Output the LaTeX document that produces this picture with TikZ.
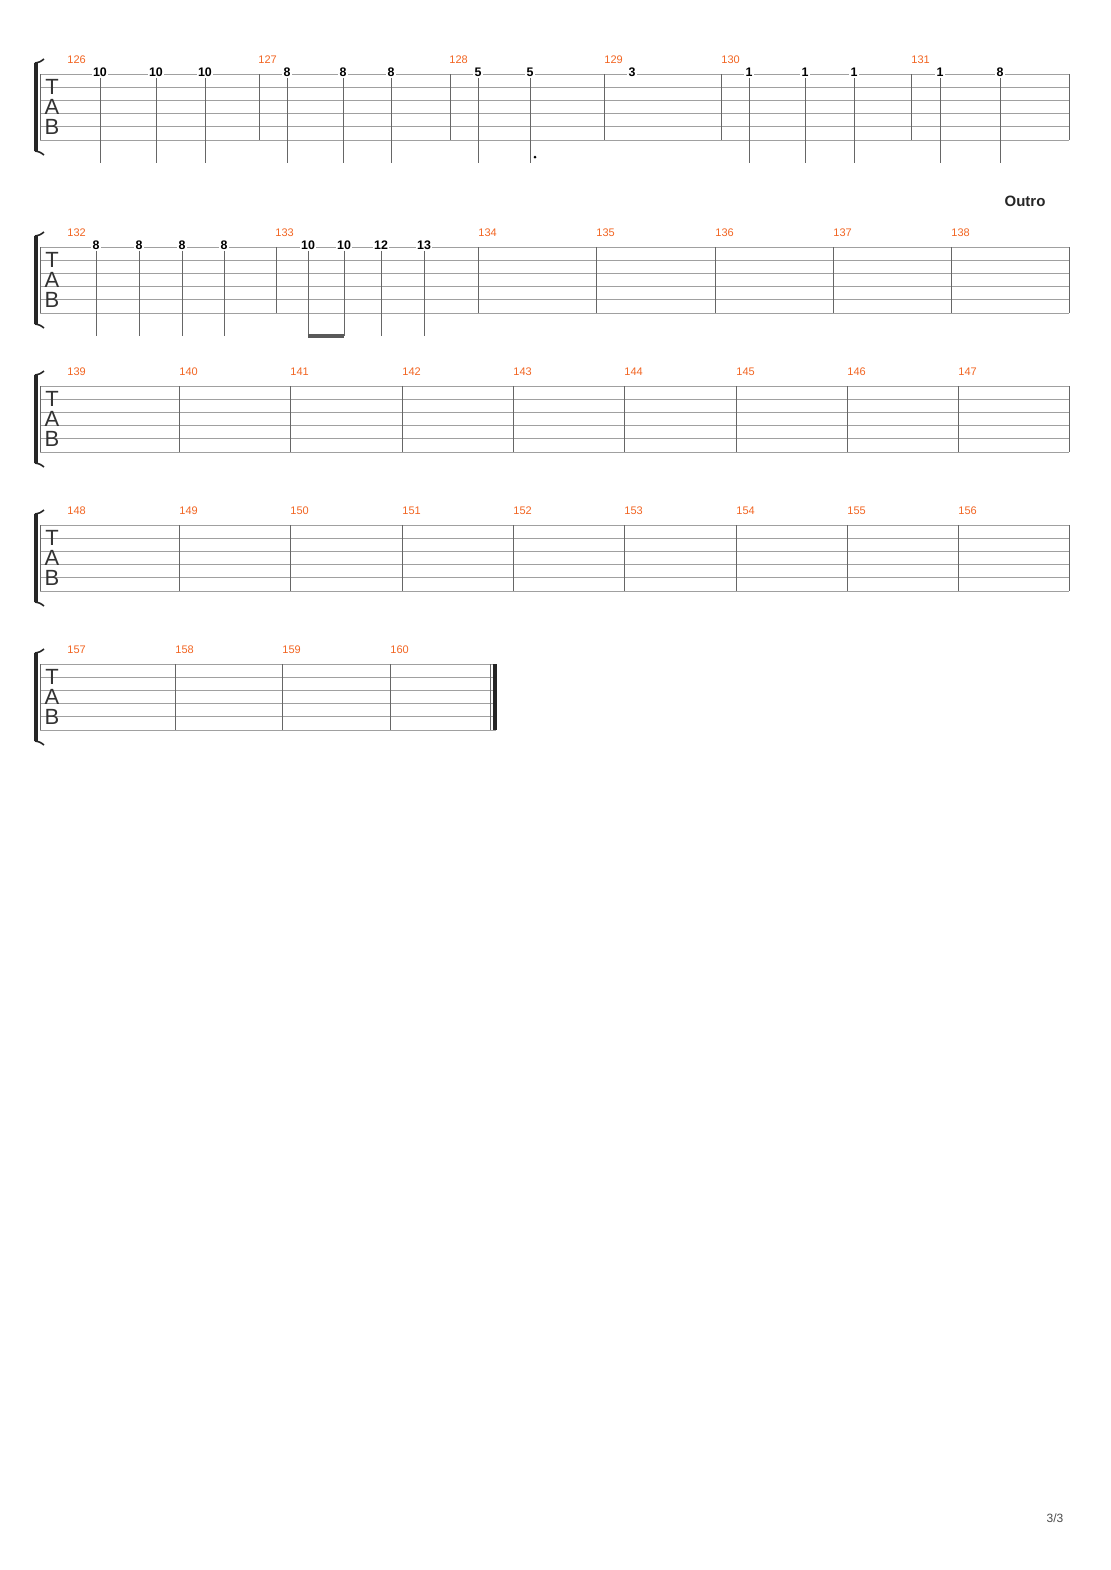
\documentclass[tikz,border=0pt]{standalone}
\usepackage{fontspec}
\setmainfont{Liberation Sans}
\definecolor{barnum}{HTML}{F26522}
\definecolor{staffgray}{HTML}{A0A0A0}
\tikzset{
  barno/.style={anchor=south west,inner sep=0pt,text=barnum,font=\fontsize{5.5}{6}\selectfont},
  fret/.style={inner sep=0.6pt,fill=white,font=\bfseries\fontsize{6.2}{7}\selectfont},
  tabletter/.style={inner sep=0pt,font=\fontsize{11}{11}\selectfont,text=black!80},
  stem/.style={draw=black!60,line width=0.5pt},
  barline/.style={draw=black!60,line width=0.5pt}
}
% one staff: #1 top y, #2 right end x
\newcommand{\tabstaff}[2]{%
  \foreach \s in {0,...,5}
    \draw[staffgray,line width=0.4pt] (40,#1+13.2*\s) -- (#2,#1+13.2*\s);
  \draw[barline] (40,#1) -- (40,#1+66);
  \node[tabletter] at (52,#1+13) {T};
  \node[tabletter] at (52,#1+33) {A};
  \node[tabletter] at (52,#1+53) {B};
  \draw[line width=2pt,black!85] (36,#1-11) -- (36,#1+77);
  \draw[line width=0.8pt,black!85] (35,#1-11) .. controls (40,#1-12) .. (44,#1-15);
  \draw[line width=0.8pt,black!85] (35,#1+77) .. controls (40,#1+78) .. (44,#1+81);
}
\begin{document}
\begin{tikzpicture}[x=0.5pt,y=-0.5pt]
\useasboundingbox[fill=white] (0,0) rectangle (1110,1570);

% staff 1
\tabstaff{74}{1069}
\foreach \x in {259,450,604,721,911,1069} \draw[barline] (\x,74) -- (\x,140);
\foreach \n/\x in {126/67,127/258,128/449,129/604,130/721,131/911}
  \node[barno] (b\n) at (\x,64) {\n};
\foreach \i/\x/\f in {a/100/10,b/156/10,c/205/10,d/287/8,e/343/8,f/391/8,g/478/5,h/530/5,j/749/1,k/805/1,l/854/1,m/940/1,n/1000/8}{
  \node[fret] (r\i) at (\x,72) {\f};
  \coordinate (r\i e) at (\x,163);
  \draw[stem] (r\i.south) -- (r\i e);
}
\node[fret] (rp) at (632,72) {3};
\fill (535,157) circle (1.5);

% staff 2
\node[font=\bfseries\fontsize{7.5}{8}\selectfont,text=black!85] (outro) at (1025,201) {Outro};
\tabstaff{247}{1069}
\foreach \x in {276,478,596,715,833,951,1069} \draw[barline] (\x,247) -- (\x,313);
\foreach \n/\x in {132/67,133/275,134/478,135/596,136/715,137/833,138/951}
  \node[barno] (b\n) at (\x,237) {\n};
\foreach \i/\x/\f in {a/96/8,b/139/8,c/182/8,d/224/8,e/308/10,f/344/10,g/381/12,h/424/13}{
  \node[fret] (s\i) at (\x,245) {\f};
  \coordinate (s\i e) at (\x,336);
  \draw[stem] (s\i.south) -- (s\i e);
}
\draw[black!65,line width=1.6pt] (see) -- (sfe);

% staff 3
\tabstaff{386}{1069}
\foreach \x in {179,290,402,513,624,736,847,958,1069} \draw[barline] (\x,386) -- (\x,452);
\foreach \n/\x in {139/67,140/179,141/290,142/402,143/513,144/624,145/736,146/847,147/958}
  \node[barno] (b\n) at (\x,376) {\n};

% staff 4
\tabstaff{525}{1069}
\foreach \x in {179,290,402,513,624,736,847,958,1069} \draw[barline] (\x,525) -- (\x,591);
\foreach \n/\x in {148/67,149/179,150/290,151/402,152/513,153/624,154/736,155/847,156/958}
  \node[barno] (b\n) at (\x,515) {\n};

% staff 5
\tabstaff{664}{496}
\foreach \x in {175,282,390,490} \draw[barline] (\x,664) -- (\x,730);
\fill[black!85] (493,664) rectangle (497,730);
\foreach \n/\x in {157/67,158/175,159/282,160/390}
  \node[barno] (b\n) at (\x,654) {\n};

\node[font=\fontsize{6}{7}\selectfont,text=black!70] (page) at (1055,1518) {3/3};
\end{tikzpicture}
\end{document}
